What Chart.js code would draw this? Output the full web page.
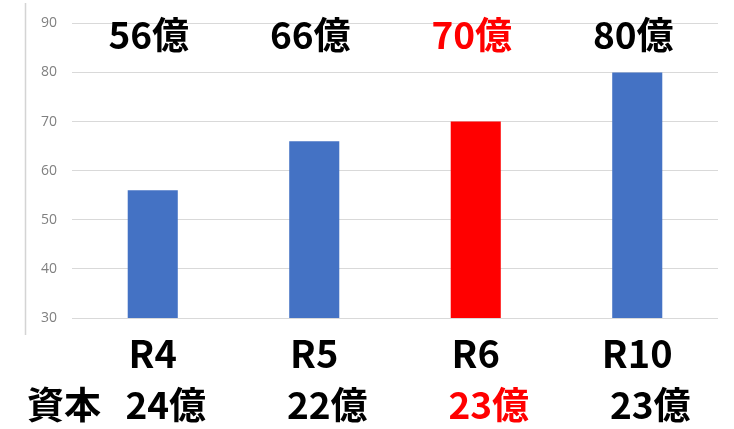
<!DOCTYPE html>
<html lang="ja">
<head>
<meta charset="utf-8">
<title>売上と資本</title>
<script src="https://cdn.jsdelivr.net/npm/chart.js@4.4.1/dist/chart.umd.min.js"></script>
<style>
  html, body { margin: 0; padding: 0; background: #fff; }
  #wrap { width: 734px; height: 429px; }
</style>
</head>
<body>
<div id="wrap"><canvas id="chart" width="734" height="429"></canvas></div>
<script>
// data
const categories = ['R4', 'R5', 'R6', 'R10'];
const salesValues = [56, 66, 70, 80];
const capitalValues = [24, 22, 23, 23];
const highlightIndex = 2;
const yTicks = [30, 40, 50, 60, 70, 80, 90];

const BLUE = '#4472c4';
const RED = '#ff0000';
const JP_FONT = "'Noto Sans CJK JP', sans-serif";

const colorFor = i => (i === highlightIndex ? RED : BLUE);
const textColorFor = i => (i === highlightIndex ? RED : '#000');

// value labels on top row + capital row under the axis
const labelRows = {
  id: 'labelRows',
  afterDraw(chart) {
    const { ctx, scales: { x } } = chart;
    ctx.save();
    ctx.font = 'bold 37px ' + JP_FONT;
    ctx.textAlign = 'center';
    ctx.textBaseline = 'middle';

    salesValues.forEach((v, i) => {
      ctx.fillStyle = textColorFor(i);
      ctx.fillText(v + '億', x.getPixelForValue(i) - 4, 35);
    });

    capitalValues.forEach((v, i) => {
      ctx.fillStyle = textColorFor(i);
      ctx.fillText(v + '億', x.getPixelForValue(i) + 13, 405);
    });

    ctx.fillStyle = '#000';
    ctx.textAlign = 'left';
    ctx.fillText('資本', 27, 405);

    // left frame line
    ctx.strokeStyle = '#d4d4d4';
    ctx.lineWidth = 1.5;
    ctx.beginPath();
    ctx.moveTo(25.5, 3);
    ctx.lineTo(25.5, 335);
    ctx.stroke();
    ctx.restore();
  }
};

new Chart(document.getElementById('chart'), {
  type: 'bar',
  data: {
    labels: categories,
    datasets: [{
      data: salesValues,
      backgroundColor: salesValues.map((_, i) => colorFor(i)),
      borderWidth: 0,
      categoryPercentage: 1,
      barPercentage: 0.31
    }]
  },
  options: {
    responsive: false,
    animation: false,
    layout: { padding: { top: 21, right: 16, left: 0, bottom: 0 } },
    plugins: {
      legend: { display: false },
      tooltip: { enabled: false }
    },
    scales: {
      y: {
        min: yTicks[0],
        max: yTicks[yTicks.length - 1],
        afterBuildTicks: s => { s.ticks = yTicks.map(v => ({ value: v })); },
        afterFit: s => { s.width = 72; },
        ticks: {
          color: '#808080',
          padding: 15,
          font: { family: "'Open Sans', sans-serif", size: 14 }
        },
        grid: { color: '#d9d9d9', lineWidth: 1, drawTicks: false },
        border: { display: false }
      },
      x: {
        afterFit: s => { s.height = 111; },
        ticks: {
          color: '#000',
          padding: 5,
          font: { family: JP_FONT, size: 38, weight: 'bold' }
        },
        grid: { display: false },
        border: { display: false }
      }
    }
  },
  plugins: [labelRows]
});
</script>
</body>
</html>
